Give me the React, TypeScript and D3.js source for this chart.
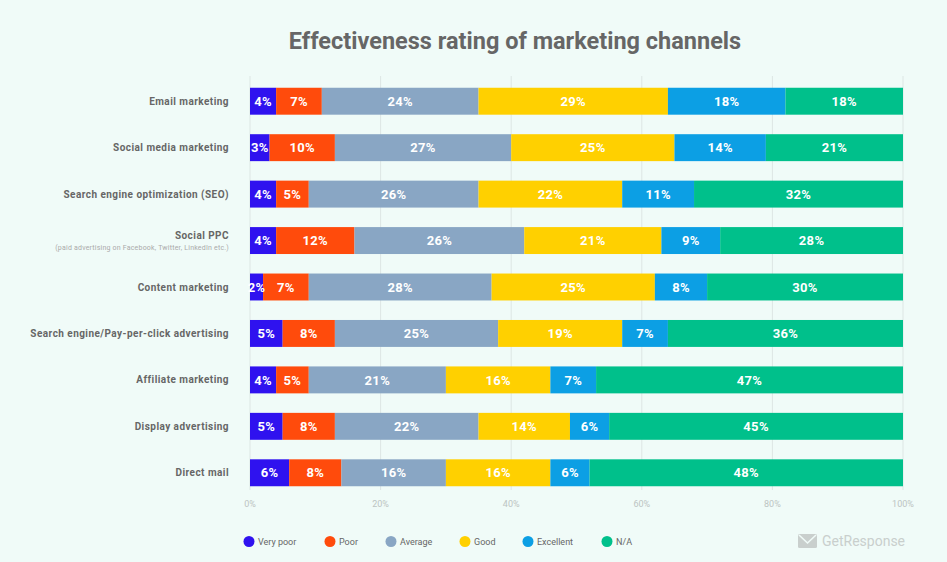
import React from "react";
import * as d3 from "d3";

const categories = [
  "Email marketing",
  "Social media marketing",
  "Search engine optimization (SEO)",
  "Social PPC",
  "Content marketing",
  "Search engine/Pay-per-click advertising",
  "Affiliate marketing",
  "Display advertising",
  "Direct mail",
];
const subtitles: Record<string, string> = {
  "Social PPC": "(paid advertising on Facebook, Twitter, LinkedIn etc.)",
};
const seriesNames = ["Very poor", "Poor", "Average", "Good", "Excellent", "N/A"];
const seriesColors = ["#2f12ef", "#ff4b0c", "#89a6c4", "#ffd000", "#0c9fe4", "#00c08b"];

const veryPoor = [4, 3, 4, 4, 2, 5, 4, 5, 6];
const poor = [7, 10, 5, 12, 7, 8, 5, 8, 8];
const average = [24, 27, 26, 26, 28, 25, 21, 22, 16];
const good = [29, 25, 22, 21, 25, 19, 16, 14, 16];
const excellent = [18, 14, 11, 9, 8, 7, 7, 6, 6];
const na = [18, 21, 32, 28, 30, 36, 47, 45, 48];
const tickValues = [0, 20, 40, 60, 80, 100];

const seriesValues = [veryPoor, poor, average, good, excellent, na];

export default function App() {
  const W = 947;
  const H = 562;
  const x = d3.scaleLinear().domain([0, 100]).range([250, 903]);
  const y = d3.scaleBand().domain(categories).range([78, 496]).paddingInner(0.42).paddingOuter(0.21);

  const rows = categories.map((c, i) => {
    const obj: any = { cat: c };
    seriesNames.forEach((s, k) => (obj[s] = seriesValues[k][i]));
    return obj;
  });
  const stacked = d3.stack<any>().keys(seriesNames)(rows);

  const legendX = [249, 330, 391, 465, 528, 607];

  return (
    <svg width={W} height={H} style={{ display: "block", position: "absolute", left: 0, top: 0 }}>
      <rect x={0} y={0} width={W} height={H} fill="#f0fbf8" />
      <text x={515} y={49} textAnchor="middle" fontFamily="Roboto" fontWeight={700} fontSize={23.5} fill="#666">
        Effectiveness rating of marketing channels
      </text>
      {tickValues.map((t) => (
        <g key={t}>
          <line x1={x(t)} x2={x(t)} y1={76} y2={490} stroke="#dde6e4" strokeWidth={1} />
          <text x={x(t)} y={507} textAnchor="middle" fontFamily="Roboto" fontSize={9} fill="#bcc4c2">
            {t}%
          </text>
        </g>
      ))}
      {categories.map((c) => {
        const cy = (y(c) as number) + y.bandwidth() / 2;
        const sub = subtitles[c];
        return (
          <g key={c}>
            <text
              x={229}
              y={sub ? cy - 5 : cy}
              dy="0.35em"
              textAnchor="end"
              fontFamily="Roboto"
              fontWeight={700}
              fontSize={10}
              letterSpacing={0.45}
              fill="#666"
            >
              {c}
            </text>
            {sub && (
              <text x={229} y={cy + 7} dy="0.35em" textAnchor="end" fontFamily="Roboto" fontSize={7} letterSpacing={0.2} fill="#aaa">
                {sub}
              </text>
            )}
          </g>
        );
      })}
      {stacked.map((layer, k) => (
        <g key={layer.key} fill={seriesColors[k]}>
          {layer.map((d, i) => (
            <rect
              key={i}
              x={x(d[0])}
              y={y(categories[i]) as number}
              width={x(d[1]) - x(d[0])}
              height={y.bandwidth()}
            />
          ))}
        </g>
      ))}
      {stacked.map((layer, k) => (
        <g key={"l" + layer.key}>
          {layer.map((d, i) => (
            <text
              key={i}
              x={(x(d[0]) + x(d[1])) / 2}
              y={(y(categories[i]) as number) + y.bandwidth() / 2}
              dy="0.36em"
              textAnchor="middle"
              fontFamily="Roboto"
              fontWeight={700}
              fontSize={13}
              letterSpacing={0.3}
              fill="#fff"
            >
              {d[1] - d[0]}%
            </text>
          ))}
        </g>
      ))}
      {seriesNames.map((s, k) => (
        <g key={s}>
          <circle cx={legendX[k]} cy={541.5} r={5.5} fill={seriesColors[k]} />
          <text x={legendX[k] + 9} y={541.5} dy="0.35em" fontFamily="Roboto" fontSize={9} fill="#666">
            {s}
          </text>
        </g>
      ))}
      <g fill="#c9cfcd">
        <rect x={798} y={534} width={19} height={14} rx={1.5} />
        <path d="M799,535 L807.5,543 L816,535" fill="none" stroke="#f0fbf8" strokeWidth={1.6} />
        <text x={822} y={541} dy="0.36em" fontFamily="Roboto" fontSize={14} fill="#c9cfcd">
          GetResponse
        </text>
      </g>
    </svg>
  );
}
